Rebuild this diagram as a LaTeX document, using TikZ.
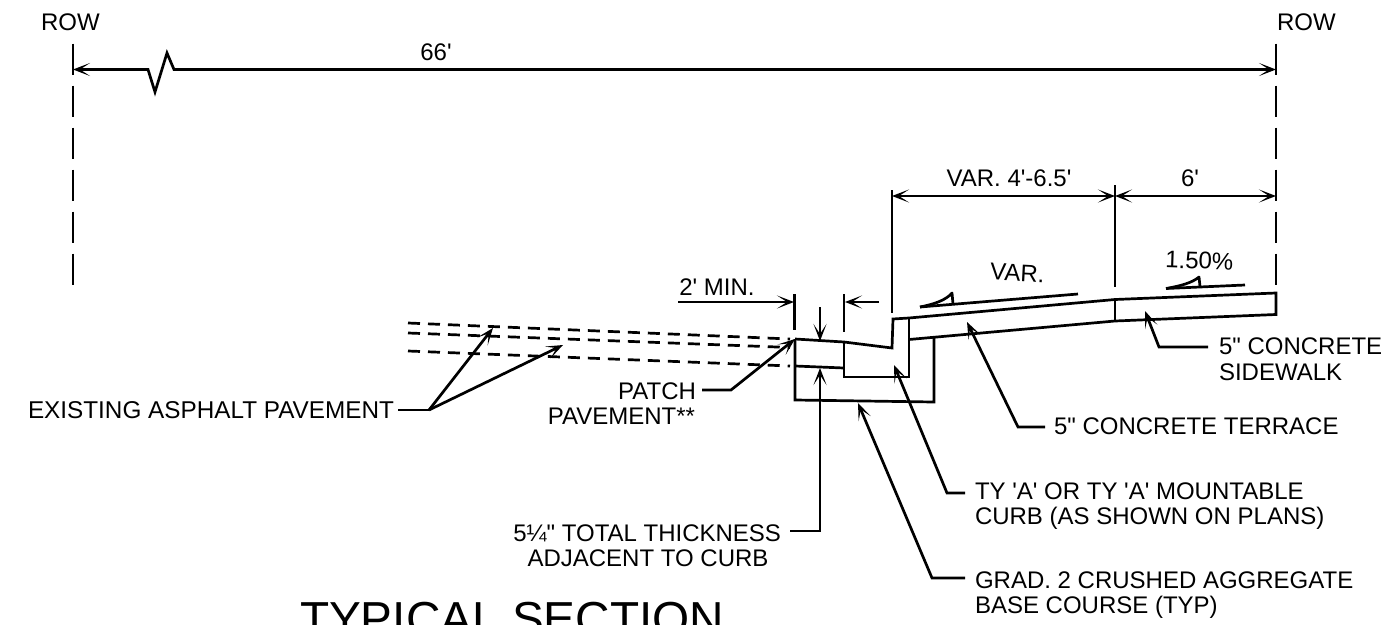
\documentclass[tikz,border=0pt]{standalone}
\usepackage{fontspec}
\newfontfamily\lsans{Liberation Sans}
\usetikzlibrary{arrows.meta}
\tikzset{
  lbl/.style={inner sep=0pt,outer sep=0pt,font=\lsans\fontsize{24}{28}\selectfont,anchor=base west},
  lblc/.style={lbl,anchor=base},
  lblr/.style={lbl,anchor=base east},
  ln/.style={line width=2.7pt,line join=miter},
  tipped/.style={ln,-{Stealth[length=17pt,width=13pt,inset=10pt]}},
  bothtip/.style={ln,{Stealth[length=17pt,width=13pt,inset=10pt]}-{Stealth[length=17pt,width=13pt,inset=10pt]}},
  dashln/.style={ln,dash pattern=on 12pt off 8pt},
  rowdash/.style={ln,dash pattern=on 31.5pt off 10.5pt},
}
\begin{document}
\begin{tikzpicture}[x=1pt,y=-1pt]
\path[use as bounding box] (0,0) rectangle (1395,624);
\clip (0,0) rectangle (1395,624);
\fill[white] (0,0) rectangle (1395,624);
% coordinates
\coordinate (rowLt) at (73,43.5); \coordinate (rowLb) at (73,287);
\coordinate (rowRt) at (1276,43.5); \coordinate (rowRb) at (1276,287);
\coordinate (dimL) at (73,69.5); \coordinate (dimR) at (1276,69.5);
\coordinate (curbT) at (892,190); \coordinate (curbB) at (892,313);
\coordinate (jointT) at (1115,185); \coordinate (jointB) at (1115,287);
\coordinate (d1L) at (892,196); \coordinate (d1M) at (1115,196); \coordinate (d1R) at (1276,196);
% texts
\node[lbl] (rowa) at (41,30) {ROW};
\node[lbl] (rowb) at (1277,30) {ROW};
\node[lblc] (t66) at (436,60) {66'};
\node[lblc] (tvar) at (1009,186) {VAR. 4'-6.5'};
\node[lblc] (t6) at (1190,186) {6'};
\node[lblc,rotate=-3] (tvs) at (1017,281) {VAR.};
\node[lblc,rotate=-2] (tpc) at (1199,269) {1.50\%};
\node[lblc] (tmin) at (717,295) {2' MIN.};
\node[lbl,font=\lsans\fontsize{24.3}{28}\selectfont] (texist) at (28,418) {EXISTING ASPHALT PAVEMENT};
\node[lblr] (tpatch) at (696,399) {PATCH};
\node[lblr] (tpave) at (695,424) {PAVEMENT**};
\node[lblr] (tthick) at (781,541) {5¼" TOTAL THICKNESS};
\node[lblc] (tadj) at (648,566) {ADJACENT TO CURB};
\node[lbl] (tside) at (1219,354) {5" CONCRETE};
\node[lbl] (tside2) at (1219,380) {SIDEWALK};
\node[lbl] (tterr) at (1054,434) {5" CONCRETE TERRACE};
\node[lbl] (tty) at (975,499) {TY 'A' OR TY 'A' MOUNTABLE};
\node[lbl] (tty2) at (975,524) {CURB (AS SHOWN ON PLANS)};
\node[lbl] (tgr) at (975,588) {GRAD. 2 CRUSHED AGGREGATE};
\node[lbl] (tgr2) at (975,613) {BASE COURSE (TYP)};
\node[lbl,font=\lsans\fontsize{47.7}{50}\selectfont] (ttitle) at (300,635) {TYPICAL SECTION};
% ROW lines
\draw[rowdash] (rowLt) -- (rowLb);
\draw[rowdash] (rowRt) -- (rowRb);
% top dimension
\draw[bothtip] (dimL) -- (148,69.5) -- (155,92) -- (167,53) -- (174,69.5) -- (dimR);
% width dimensions
\draw[ln] (curbT) -- (curbB);
\draw[ln] (jointT) -- (jointB);
\draw[bothtip] (d1L) -- (d1M);
\draw[bothtip] (d1M) -- (d1R);
% section outline
\draw[ln] (795,339) -- (844,342) -- (892,348) -- (893,319) -- (909,318) -- (1115,299.5) -- (1276,293) -- (1276,314.5) -- (1115,321) -- (909,339.5);
\draw[ln] (909,318) -- (909,377) -- (844,377) -- (844,342);
\draw[ln] (1115,299.5) -- (1115,321);
\draw[ln] (795,339) -- (795,400) -- (934,402) -- (934,338);
\draw[ln] (795,366) -- (844,368);
% ticks
\draw[ln] (794.5,294) -- (794.5,330);
\draw[ln] (844,294) -- (844,332);
\draw[tipped] (678,302) -- (794,302);
\draw[tipped] (879,302) -- (845,302);
% existing pavement
\draw[dashln] (408,323) -- (790,339);
\draw[dashln] (408,333) -- (790,347.5);
\draw[dashln] (408,351) -- (790,366);
% slopes
\draw[ln] (920,307) -- (1078,294);
\draw[ln,line join=round] (920,307) .. controls (935,304) and (946,300) .. (952,293) -- (953,304);
\draw[ln] (1166,288.5) -- (1245,285);
\draw[ln,line join=round] (1166,288.5) .. controls (1180,286) and (1192,283) .. (1199,277) -- (1200,286.5);
% leaders
\draw[ln] (398,410) -- (429,410);
\draw[tipped] (429,410) -- (493,328);
\draw[tipped] (429,410) -- (563,345);
\draw[tipped] (702,390) -- (731,390) -- (795,339);
\draw[tipped] (820,307) -- (820,341);
\draw[tipped] (790,531) -- (820,531) -- (820,368);
\draw[tipped] (965,578) -- (932,578) -- (858,403);
\draw[tipped] (965,493) -- (947,493) -- (894,365);
\draw[tipped] (1045,427) -- (1018,427) -- (967,322);
\draw[tipped] (1208,347) -- (1159,347) -- (1145,311);
\end{tikzpicture}
\end{document}
